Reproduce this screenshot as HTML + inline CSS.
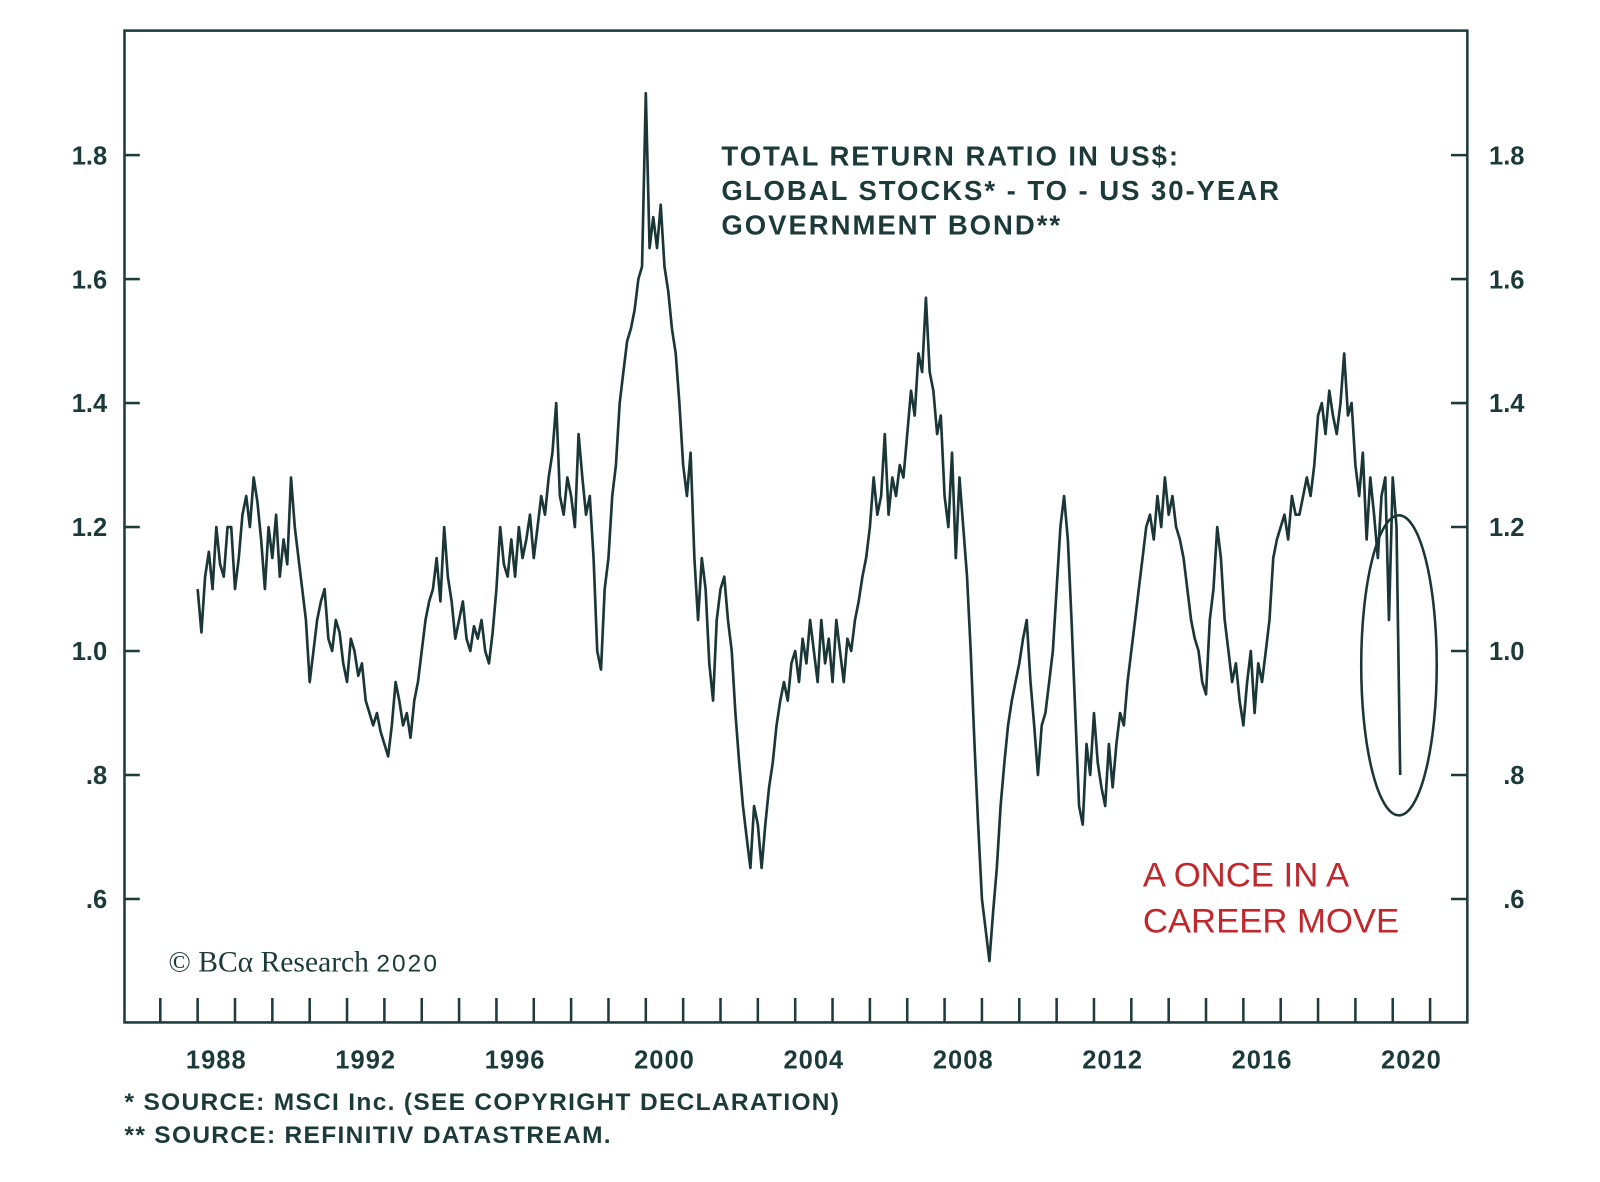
<!DOCTYPE html>
<html><head><meta charset="utf-8"><style>
html,body{margin:0;padding:0;background:#fff;}
svg{display:block;font-family:"Liberation Sans",sans-serif;}
</style></head><body>
<svg id="chart" width="1600" height="1182" viewBox="0 0 1600 1182" xmlns="http://www.w3.org/2000/svg">
<g transform="scale(1.0204)">
<rect x="122" y="30" width="1316" height="972" fill="none" stroke="#1f3b3b" stroke-width="2.5"/>
<g id="yticks"></g><g id="xticks"></g>
<path id="series" fill="none" stroke="#1a3636" stroke-width="2.6" stroke-linejoin="round"/>
<ellipse cx="1371" cy="652" rx="37" ry="147" fill="none" stroke="#1a3636" stroke-width="2.5"/>
<g fill="#1d3a3a" font-weight="bold" font-size="27" letter-spacing="1.9">
<text x="707" y="162">TOTAL RETURN RATIO IN US$:</text>
<text x="707" y="196">GLOBAL STOCKS* - TO - US 30-YEAR</text>
<text x="707" y="230">GOVERNMENT BOND**</text>
</g>
<g fill="#c0282d" font-size="34">
<text x="1120" y="869">A ONCE IN A</text>
<text x="1120" y="914">CAREER MOVE</text>
</g>
<text x="165" y="952" font-family="Liberation Serif,serif" font-size="29" fill="#1d3a3a">© BCα Research <tspan font-family="Liberation Sans,sans-serif" font-size="24" letter-spacing="2">2020</tspan></text>
<g fill="#1d3a3a" font-size="24" font-weight="bold" letter-spacing="1.3">
<text x="122" y="1088">*  SOURCE: MSCI Inc. (SEE COPYRIGHT DECLARATION)</text>
<text x="122" y="1120">** SOURCE: REFINITIV DATASTREAM.</text>
</g>
</g>
</svg>
<script>
const yTickValues=[0.6,0.8,1.0,1.2,1.4,1.6,1.8];
const yTickLabels=[".6",".8","1.0","1.2","1.4","1.6","1.8"];
const xTickYears=[1988,1992,1996,2000,2004,2008,2012,2016,2020];
const seriesStart=1987.5;
const seriesStep=0.1;
const seriesV=[
1.10,1.03,1.12,1.16,1.10,
1.20,1.14,1.12,1.20,1.20,1.10,1.15,1.22,1.25,1.20,
1.28,1.24,1.18,1.10,1.20,1.15,1.22,1.12,1.18,1.14,
1.28,1.20,1.15,1.10,1.05,0.95,1.00,1.05,1.08,1.10,
1.02,1.00,1.05,1.03,0.98,0.95,1.02,1.00,0.96,0.98,
0.92,0.90,0.88,0.90,0.87,0.85,0.83,0.88,0.95,0.92,
0.88,0.90,0.86,0.92,0.95,1.00,1.05,1.08,1.10,1.15,
1.08,1.20,1.12,1.08,1.02,1.05,1.08,1.02,1.00,1.04,
1.02,1.05,1.00,0.98,1.03,1.10,1.20,1.14,1.12,1.18,
1.12,1.20,1.15,1.18,1.22,1.15,1.20,1.25,1.22,1.28,
1.32,1.40,1.25,1.22,1.28,1.25,1.20,1.35,1.28,1.22,
1.25,1.15,1.00,0.97,1.10,1.15,1.25,1.30,1.40,1.45,
1.50,1.52,1.55,1.60,1.62,1.90,1.65,1.70,1.65,1.72,
1.62,1.58,1.52,1.48,1.40,1.30,1.25,1.32,1.15,1.05,
1.15,1.10,0.98,0.92,1.05,1.10,1.12,1.05,1.00,0.90,
0.82,0.75,0.70,0.65,0.75,0.72,0.65,0.72,0.78,0.82,
0.88,0.92,0.95,0.92,0.98,1.00,0.95,1.02,0.98,1.05,
1.00,0.95,1.05,0.98,1.02,0.95,1.05,1.00,0.95,1.02,
1.00,1.05,1.08,1.12,1.15,1.20,1.28,1.22,1.25,1.35,
1.22,1.28,1.25,1.30,1.28,1.35,1.42,1.38,1.48,1.45,
1.57,1.45,1.42,1.35,1.38,1.25,1.20,1.32,1.15,1.28,
1.20,1.12,1.00,0.85,0.72,0.60,0.55,0.50,0.58,0.65,
0.75,0.82,0.88,0.92,0.95,0.98,1.02,1.05,0.95,0.88,
0.80,0.88,0.90,0.95,1.00,1.10,1.20,1.25,1.18,1.05,
0.90,0.75,0.72,0.85,0.80,0.90,0.82,0.78,0.75,0.85,
0.78,0.85,0.90,0.88,0.95,1.00,1.05,1.10,1.15,1.20,
1.22,1.18,1.25,1.20,1.28,1.22,1.25,1.20,1.18,1.15,
1.10,1.05,1.02,1.00,0.95,0.93,1.05,1.10,1.20,1.15,
1.05,1.00,0.95,0.98,0.92,0.88,0.95,1.00,0.90,0.98,
0.95,1.00,1.05,1.15,1.18,1.20,1.22,1.18,1.25,1.22,
1.22,1.25,1.28,1.25,1.30,1.38,1.40,1.35,1.42,1.38,
1.35,1.40,1.48,1.38,1.40,1.30,1.25,1.32,1.18,1.28,
1.22,1.15,1.25,1.28,1.05,1.28,1.20,0.80
];
const NS="http://www.w3.org/2000/svg";
function yScale(v){return 638-(v-1)*607.5;}
function xScale(t){return 212+(t-1988)*36.6;}
const yg=document.getElementById('yticks');
yTickValues.forEach((v,i)=>{
  const y=yScale(v);
  const l=document.createElementNS(NS,'line');
  
  
  l.setAttribute('x1',122);l.setAttribute('x2',137);l.setAttribute('y1',y);l.setAttribute('y2',y);
  l.setAttribute('stroke','#1f3b3b');l.setAttribute('stroke-width','2.5');yg.appendChild(l);
  const r=document.createElementNS(NS,'line');
  
  
  r.setAttribute('x1',1422);r.setAttribute('x2',1438);r.setAttribute('y1',y);r.setAttribute('y2',y);
  r.setAttribute('stroke','#1f3b3b');r.setAttribute('stroke-width','2.5');yg.appendChild(r);
  const tl=document.createElementNS(NS,'text');
  
  
  tl.setAttribute('x',105);tl.setAttribute('y',y+9);tl.setAttribute('text-anchor','end');
  tl.setAttribute('font-size','25');tl.setAttribute('font-weight','bold');tl.setAttribute('fill','#1d3a3a');
  tl.textContent=yTickLabels[i];yg.appendChild(tl);
  const tr=document.createElementNS(NS,'text');
  
  
  tr.setAttribute('x',1494);tr.setAttribute('y',y+9);tr.setAttribute('text-anchor','end');
  tr.setAttribute('font-size','25');tr.setAttribute('font-weight','bold');tr.setAttribute('fill','#1d3a3a');
  tr.textContent=yTickLabels[i];yg.appendChild(tr);
});
const xg=document.getElementById('xticks');
for(let yr=1987;yr<=2021;yr++){
  const x=xScale(yr-0.5);
  const l=document.createElementNS(NS,'line');
  
  
  l.setAttribute('x1',x);l.setAttribute('x2',x);l.setAttribute('y1',978);l.setAttribute('y2',1002);
  l.setAttribute('stroke','#1f3b3b');l.setAttribute('stroke-width','2.5');xg.appendChild(l);
}
xTickYears.forEach(yr=>{
  const t=document.createElementNS(NS,'text');
  
  
  t.setAttribute('x',xScale(yr));t.setAttribute('y',1047);t.setAttribute('text-anchor','middle');
  t.setAttribute('font-size','25');t.setAttribute('font-weight','bold');t.setAttribute('fill','#1d3a3a');
  t.setAttribute('letter-spacing','1');
  t.textContent=yr;xg.appendChild(t);
});
let d='';
seriesV.forEach((v,i)=>{const t=seriesStart+i*seriesStep;d+=(i?'L':'M')+xScale(t).toFixed(1)+','+yScale(v).toFixed(1);});
document.getElementById('series').setAttribute('d',d);
</script>
</body></html>
